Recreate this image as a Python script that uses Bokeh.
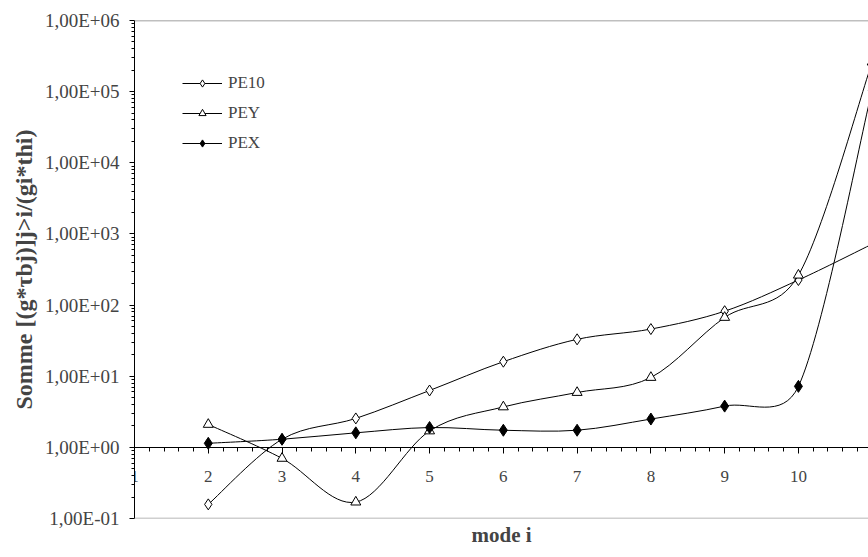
import numpy as np
from bokeh.plotting import figure
from bokeh.models import (Range1d, LinearAxis, SingleIntervalTicker, FixedTicker,
                          CustomJSTickFormatter, Legend, LegendItem, Span, Title)
from bokeh.embed import file_html
from bokeh.resources import INLINE

# ---- data ----
modes = [2, 3, 4, 5, 6, 7, 8, 9, 10, 11]
pe10 = [0.158, 1.3, 2.55, 6.3, 16, 33, 46, 82, 225, 720]
pey = [2.1, 0.70, 0.17, 1.7, 3.7, 5.9, 9.6, 67, 263, 2.6e5]
pex = [1.14, 1.3, 1.6, 1.9, 1.74, 1.74, 2.5, 3.8, 7.2, 1.05e5]
x_tick_values = list(range(1, 12))
y_tick_values = [1e-1, 1e0, 1e1, 1e2, 1e3, 1e4, 1e5, 1e6]
y_minor_values = [m * t for t in y_tick_values[:-1] for m in range(2, 10)]

FONT = "Liberation Serif"

p = figure(width=868, height=557, output_backend="svg", toolbar_location=None,
           y_axis_type="log", x_axis_location=None,
           x_range=Range1d(1, 10.95), y_range=Range1d(0.1, 1e6),
           min_border_left=134, min_border_right=0, min_border_top=20,
           min_border_bottom=39, background_fill_color="white",
           border_fill_color="white")
p.outline_line_color = None
p.grid.grid_line_color = None

# top / bottom frame lines (grey)
p.add_layout(Span(location=1e6, dimension="width", line_color="#808080", line_width=1.5))
p.add_layout(Span(location=0.1, dimension="width", line_color="#a0a0a0", line_width=1.5))

# y axis
ya = p.yaxis[0]
ya.ticker = FixedTicker(ticks=y_tick_values, minor_ticks=y_minor_values)
ya.formatter = CustomJSTickFormatter(code="""
const e = Math.round(Math.log10(tick));
return "1,00E" + (e < 0 ? "-" : "+") + String(Math.abs(e)).padStart(2, "0");
""")
ya.axis_label = "Somme [(g*τbj)]j>i/(gi*thi)"
ya.axis_label_text_font = FONT
ya.axis_label_text_font_style = "bold"
ya.axis_label_text_font_size = "24px"
ya.axis_label_standoff = 5
ya.major_label_text_font = FONT
ya.major_label_text_font_size = "19px"
ya.major_label_standoff = 10
ya.major_tick_out = 5
ya.major_tick_in = 0
ya.minor_tick_out = 3
ya.minor_tick_in = 0
ya.axis_line_color = "black"
ya.major_tick_line_color = "black"
ya.minor_tick_line_color = "black"

# x axis crossing at y = 1
xa = LinearAxis(fixed_location=1,
                ticker=SingleIntervalTicker(interval=1, num_minor_ticks=5))
xa.major_label_text_font = FONT
xa.major_label_text_font_size = "17px"
xa.major_label_standoff = 18
xa.major_tick_out = 6
xa.major_tick_in = 0
xa.minor_tick_out = 4
xa.minor_tick_in = 0
xa.axis_line_color = "black"
p.add_layout(xa, "below")

# x axis title below the frame
p.add_layout(Title(text="mode i", align="center", vertical_align="bottom",
                   text_font=FONT, text_font_size="21px", text_font_style="bold",
                   standoff=4), "below")

PX_X = 73.75   # approx. pixels per mode unit
PX_Y = 71.1    # approx. pixels per decade


def smooth(xs, ys):
    """Excel-like smoothed segments: Bezier control points in x / log10(y)."""
    px = np.asarray(xs, float) * PX_X
    py = np.log10(np.asarray(ys, float)) * PX_Y
    n = len(px)
    out = dict(x0=[], y0=[], x1=[], y1=[], cx0=[], cy0=[], cx1=[], cy1=[])

    def arm(i_from, i_to, seg_len):
        dx = (px[i_to] - px[i_from]) / 6
        dy = (py[i_to] - py[i_from]) / 6
        L = np.hypot(dx, dy)
        lim = seg_len / 2
        if L > lim and L > 0:
            dx, dy = dx * lim / L, dy * lim / L
        return dx, dy

    for i in range(n - 1):
        a = max(i - 1, 0)
        b = min(i + 2, n - 1)
        seg = np.hypot(px[i + 1] - px[i], py[i + 1] - py[i])
        d0x, d0y = arm(a, i + 1, seg)
        d1x, d1y = arm(i, b, seg)
        out["x0"].append(px[i] / PX_X); out["y0"].append(10 ** (py[i] / PX_Y))
        out["x1"].append(px[i + 1] / PX_X); out["y1"].append(10 ** (py[i + 1] / PX_Y))
        out["cx0"].append((px[i] + d0x) / PX_X)
        out["cy0"].append(10 ** ((py[i] + d0y) / PX_Y))
        out["cx1"].append((px[i + 1] - d1x) / PX_X)
        out["cy1"].append(10 ** ((py[i + 1] - d1y) / PX_Y))
    return out


items = []
series = [
    ("PE10", pe10, dict(marker="diamond", size=11, fill_color="white")),
    ("PEY", pey, dict(marker="triangle", size=10, fill_color="white")),
    ("PEX", pex, dict(marker="diamond", size=12, fill_color="black")),
]
for name, vals, mk in series:
    b = p.bezier(line_color="black", line_width=1, **smooth(modes, vals))
    s = p.scatter(modes, vals, line_color="black", line_width=1, **mk)
    items.append(LegendItem(label=name, renderers=[b, s]))

legend = Legend(items=items, location="top_left", border_line_color=None,
                background_fill_alpha=0, glyph_width=40, glyph_height=18,
                label_height=30, spacing=0, margin=48, padding=8,
                label_text_font=FONT, label_text_font_size="17px",
                label_standoff=6)
p.add_layout(legend)

open("out.html", "w").write(file_html(p, INLINE))
